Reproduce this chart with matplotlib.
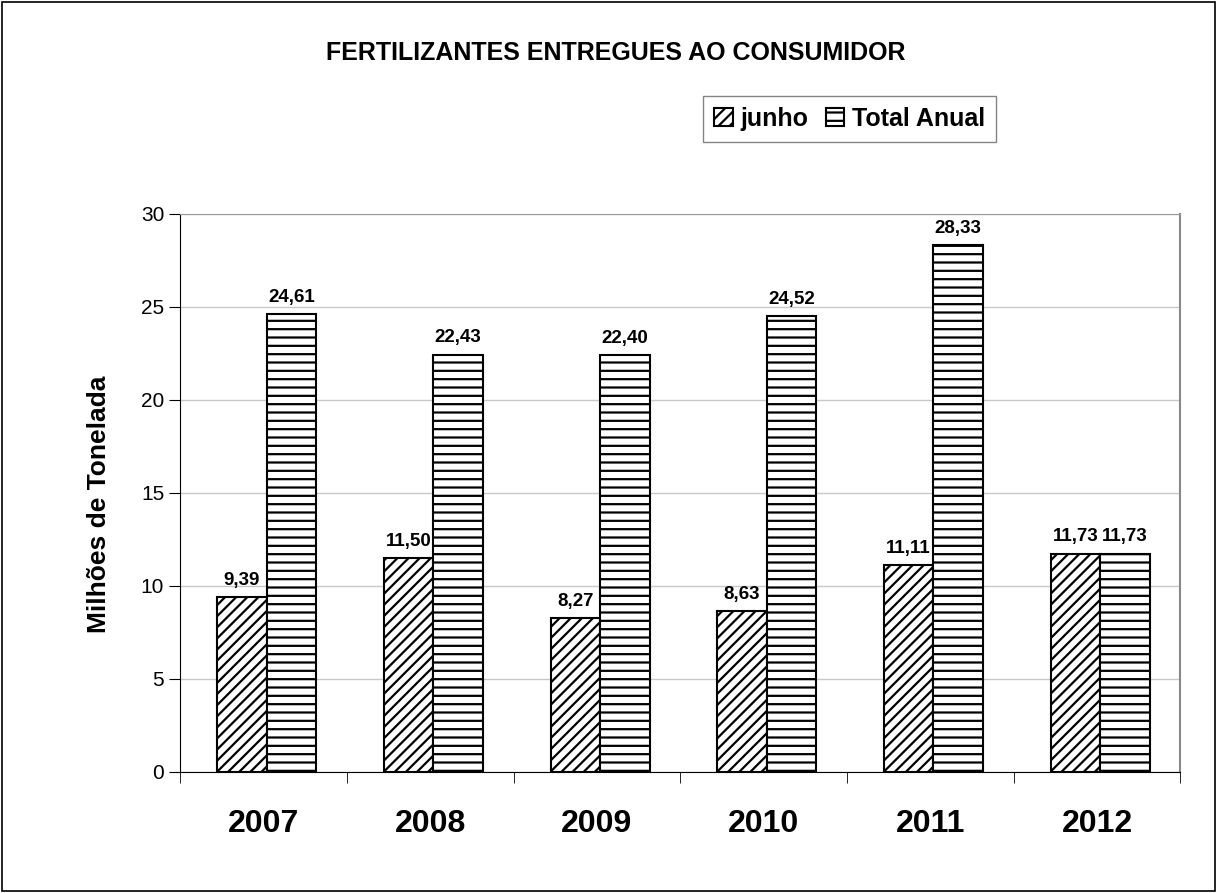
import numpy as np
import matplotlib.pyplot as plt
from matplotlib.patches import Rectangle

plt.rcParams['font.family'] = ['Liberation Sans', 'DejaVu Sans']
plt.rcParams['hatch.linewidth'] = 1.6

# data
anos = ['2007', '2008', '2009', '2010', '2011', '2012']
junho = [9.39, 11.50, 8.27, 8.63, 11.11, 11.73]
total_anual = [24.61, 22.43, 22.40, 24.52, 28.33, 11.73]

fig = plt.figure(figsize=(12.17, 8.93), dpi=100)
ax = fig.add_axes([0.148, 0.1355, 0.822, 0.6249])

x = np.arange(len(anos))
w = 0.297
b1 = ax.bar(x - 0.13, junho, w, color='white', edgecolor='black',
            linewidth=1.5, hatch='///', label='junho', zorder=3)
b2 = ax.bar(x + w - 0.13, total_anual, w, color='white', edgecolor='black',
            linewidth=1.5, hatch='--', label='Total Anual', zorder=3)

def fmt(v):
    return f'{v:.2f}'.replace('.', ',')

for bars, vals in [(b1, junho), (b2, total_anual)]:
    for r, v in zip(bars, vals):
        ax.annotate(fmt(v), (r.get_x() + r.get_width() / 2, v),
                    xytext=(0, 6), textcoords='offset points',
                    ha='center', va='bottom', fontsize=13.5, fontweight='bold')

ax.set_xlim(-0.5, len(anos) - 0.5)
ax.set_ylim(0, 30)
ax.set_yticks(range(0, 31, 5))
ax.tick_params(axis='y', labelsize=15, length=8, direction='out')
ax.yaxis.grid(True, color='#c8c8c8', linewidth=1, zorder=0)
ax.set_axisbelow(True)

ax.set_xticks(x)
ax.set_xticklabels(anos, fontsize=23, fontweight='bold')
ax.tick_params(axis='x', length=0, pad=27)
ax.set_xticks(np.arange(-0.5, len(anos)), minor=True)
ax.tick_params(axis='x', which='minor', length=8, direction='out')

ax.spines['top'].set_color('#999999')
ax.spines['right'].set_color('#888888')
ax.spines['right'].set_linewidth(1.5)
ax.spines['left'].set_color('black')
ax.spines['bottom'].set_color('black')

ax.set_ylabel('Milhões de Tonelada', fontsize=19, fontweight='bold')
ax.yaxis.set_label_coords(-0.069, 0.48)

fig.text(0.506, 0.941, 'FERTILIZANTES ENTREGUES AO CONSUMIDOR',
         ha='center', va='center', fontsize=18, fontweight='bold')

leg = fig.legend(loc='center', bbox_to_anchor=(0.698, 0.867), ncol=2,
                 frameon=True, fancybox=False, edgecolor='#666666',
                 prop={'size': 18, 'weight': 'bold'}, handlelength=0.75,
                 handleheight=0.75, handletextpad=0.3, columnspacing=0.7,
                 borderpad=0.45)

fig.patches.append(Rectangle((0.0015, 0.002), 0.997, 0.996, transform=fig.transFigure,
                             fill=False, edgecolor='black', linewidth=1.2))

fig.savefig('out.png', dpi=100)
